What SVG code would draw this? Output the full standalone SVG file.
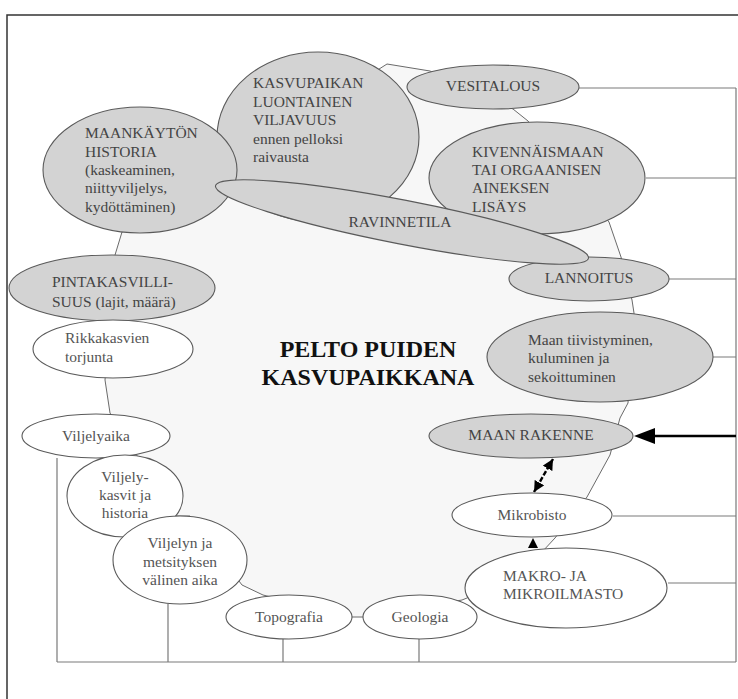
<svg xmlns="http://www.w3.org/2000/svg" width="738" height="699" viewBox="0 0 738 699">
<defs>
<style>
.g{fill:#d3d3d3;stroke:#5a5a5a;stroke-width:1.1}
.w{fill:#ffffff;stroke:#5a5a5a;stroke-width:1.1}
.t{font-family:"Liberation Serif","Times New Roman",serif;font-size:15.5px;fill:#444}
.tw{font-family:"Liberation Serif","Times New Roman",serif;font-size:15.5px;fill:#555}
.c{text-anchor:middle}
.ln{stroke:#7a7a7a;stroke-width:1.2;fill:none}
.ol{stroke:#6a6a6a;stroke-width:1;fill:#f7f7f7}
</style>
<marker id="ah" viewBox="0 0 10 10" refX="10" refY="5" markerWidth="4.5" markerHeight="4.5" orient="auto-start-reverse">
<path d="M0,0 L10,5 L0,10 z" fill="#000"/>
</marker>
</defs>
<rect x="0" y="0" width="738" height="699" fill="#ffffff"/>
<rect x="7" y="15" width="745" height="700" fill="none" stroke="#333" stroke-width="1.5"/>

<g id="field">
<path class="ol" d="M387,64 L430,71 L513,109 L528,121 L609,222 L621,257 L632,300 L634,313 L628,403 L620,418 L610,455 L587,497 L555,538 L542,552 L467,598 L462,600 L363,617 L352,617 L263,595 L242,585 L190,516 L175,516 L110,413 L105,380 L115,255 L122,232 Z"/>
</g>

<g id="connectors">
<path class="ln" d="M579,88 H736 M646,178 H736 M669,279 H736 M713,357 H736 M613,516 H736 M668,583 H736 M736,88 V662 M57,662 H736 M57,458 V662 M168,604 V662 M283,639 V662 M419,639 V662"/>
<line x1="736" y1="436" x2="652" y2="436" stroke="#000" stroke-width="2.6"/>
<path d="M634,436 L655,428 L655,444 Z" fill="#000"/>
<line x1="553" y1="459" x2="534" y2="492" stroke="#000" stroke-width="2.4" stroke-dasharray="5 2" marker-start="url(#ah)" marker-end="url(#ah)"/>
<path d="M533,538 L528,548 L538,548 Z" fill="#000"/>
</g>

<g id="kasvupaikan">
<ellipse class="g" cx="318" cy="137" rx="101" ry="85"/>
<text class="t"><tspan x="253" y="88">KASVUPAIKAN</tspan><tspan x="253" y="107">LUONTAINEN</tspan><tspan x="253" y="125">VILJAVUUS</tspan><tspan x="253" y="144">ennen pelloksi</tspan><tspan x="253" y="162">raivausta</tspan></text>
</g>
<g id="maankaytto">
<ellipse class="g" cx="140" cy="170" rx="97" ry="63"/>
<text class="t"><tspan x="85" y="138">MAANKÄYTÖN</tspan><tspan x="85" y="157">HISTORIA</tspan><tspan x="85" y="175">(kaskeaminen,</tspan><tspan x="85" y="193">niittyviljelys,</tspan><tspan x="85" y="212">kydöttäminen)</tspan></text>
</g>
<g id="vesitalous">
<ellipse class="g" cx="493" cy="87" rx="86" ry="22"/>
<text class="t c" x="493" y="91">VESITALOUS</text>
</g>
<g id="kivennais">
<ellipse class="g" cx="537" cy="178" rx="108" ry="56"/>
<text class="t"><tspan x="472" y="157">KIVENNÄISMAAN</tspan><tspan x="472" y="175">TAI ORGAANISEN</tspan><tspan x="472" y="193">AINEKSEN</tspan><tspan x="472" y="212">LISÄYS</tspan></text>
</g>
<g id="lannoitus">
<ellipse class="g" cx="589" cy="279" rx="80" ry="22"/>
<text class="t c" x="589" y="283">LANNOITUS</text>
</g>
<g id="ravinnetila">
<ellipse class="g" cx="402" cy="222" rx="190" ry="22" transform="rotate(11 402 222)"/>
<text class="t c" x="400" y="227">RAVINNETILA</text>
</g>
<g id="pintakasvillisuus">
<ellipse class="g" cx="112" cy="288" rx="103" ry="33"/>
<text class="t"><tspan x="52" y="287">PINTAKASVILLI-</tspan><tspan x="52" y="307">SUUS (lajit, määrä)</tspan></text>
</g>
<g id="rikkakasvien">
<ellipse class="w" cx="113" cy="349" rx="80" ry="29"/>
<text class="tw"><tspan x="65" y="343">Rikkakasvien</tspan><tspan x="65" y="362">torjunta</tspan></text>
</g>
<g id="tiivistyminen">
<ellipse class="g" cx="600" cy="357" rx="113" ry="45"/>
<text class="t"><tspan x="528" y="345">Maan tiivistyminen,</tspan><tspan x="528" y="363">kuluminen ja</tspan><tspan x="528" y="382">sekoittuminen</tspan></text>
</g>
<g id="maanrakenne">
<ellipse class="g" cx="531" cy="436" rx="102" ry="22"/>
<text class="t c" x="531" y="440">MAAN RAKENNE</text>
</g>
<g id="viljelyaika">
<ellipse class="w" cx="96" cy="436" rx="74" ry="22"/>
<text class="tw c" x="96" y="441">Viljelyaika</text>
</g>
<g id="viljelykasvit">
<ellipse class="w" cx="125" cy="496" rx="58" ry="41"/>
<text class="tw c"><tspan x="125" y="482">Viljely-</tspan><tspan x="125" y="500">kasvit ja</tspan><tspan x="125" y="518">historia</tspan></text>
</g>
<g id="viljelyn">
<ellipse class="w" cx="180" cy="560" rx="67" ry="44"/>
<text class="tw c"><tspan x="180" y="548">Viljelyn ja</tspan><tspan x="180" y="567">metsityksen</tspan><tspan x="180" y="585">välinen aika</tspan></text>
</g>
<g id="mikrobisto">
<ellipse class="w" cx="532" cy="515" rx="80" ry="22"/>
<text class="tw c" x="532" y="520">Mikrobisto</text>
</g>
<g id="makro">
<ellipse class="w" cx="566" cy="588" rx="101" ry="40"/>
<text class="tw"><tspan x="503" y="581">MAKRO- JA</tspan><tspan x="503" y="599">MIKROILMASTO</tspan></text>
</g>
<g id="topografia">
<ellipse class="w" cx="289" cy="617" rx="63" ry="22"/>
<text class="tw c" x="289" y="622">Topografia</text>
</g>
<g id="geologia">
<ellipse class="w" cx="420" cy="617" rx="57" ry="22"/>
<text class="tw c" x="420" y="622">Geologia</text>
</g>
<g id="title">
<text font-family="Liberation Serif, Times New Roman, serif" font-size="24" font-weight="bold" fill="#111" text-anchor="middle"><tspan x="368" y="357">PELTO PUIDEN</tspan><tspan x="368" y="385">KASVUPAIKKANA</tspan></text>
</g>
</svg>
